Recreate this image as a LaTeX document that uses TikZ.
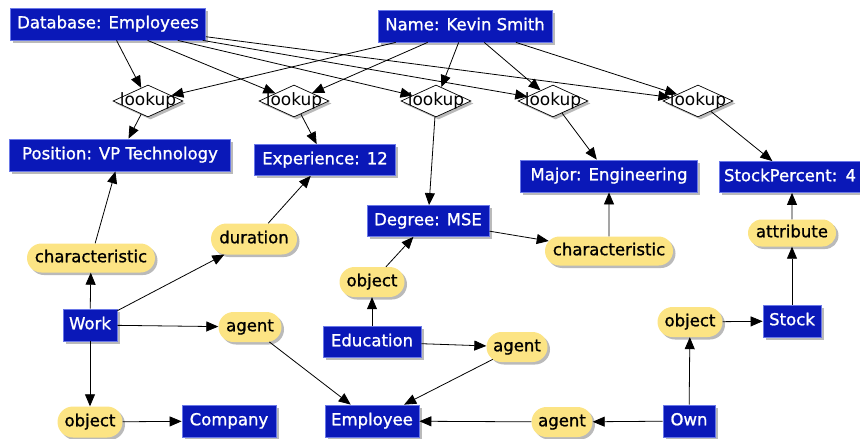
\documentclass[tikz,border=0pt]{standalone}
\usepackage{fontspec}
\setmainfont{DejaVu Sans}
\newfontfamily\bxfont[FakeBold=1.1]{DejaVu Sans}
\usetikzlibrary{shapes.geometric,shapes.misc,shadows,arrows.meta}
\definecolor{boxblue}{HTML}{0A18B8}
\definecolor{boxedge}{HTML}{6A78E8}
\definecolor{pill}{HTML}{FCE484}
\tikzset{
  bx/.style 2 args={rectangle, fill=boxblue, draw=boxedge, line width=0.8pt,
    text=white, font=\bxfont\fontsize{16.5}{19}\selectfont, inner sep=0pt,
    minimum width=#1pt, minimum height=#2pt, text height=12pt, text depth=3.5pt,
    drop shadow={shadow xshift=2.5pt, shadow yshift=-2.5pt, fill=black!45, opacity=0.6}},
  pl/.style 2 args={rounded rectangle, fill=pill, draw=none,
    text=black, font=\bxfont\fontsize{16.5}{19}\selectfont, inner sep=0pt,
    minimum width=#1pt, minimum height=#2pt, text height=12pt, text depth=3.5pt,
    drop shadow={shadow xshift=2.5pt, shadow yshift=-2.5pt, fill=black!45, opacity=0.6}},
  dia/.style={diamond, fill=white, draw=black, line width=0.7pt, inner sep=0pt,
    minimum width=70pt, minimum height=32pt,
    drop shadow={shadow xshift=2.5pt, shadow yshift=-2.5pt, fill=black!45, opacity=0.6}},
  lk/.style={font=\fontsize{17}{20}\selectfont, text=black, inner sep=0pt},
  ar/.style={-{Triangle[length=12pt,width=10pt]}, line width=0.8pt, black},
}
\begin{document}
\begin{tikzpicture}[x=1pt,y=-1pt]
\useasboundingbox (0,0) rectangle (860,439);
% top sources
\node[bx={195}{32}] (db) at (108,24) {Database: Employees};
\node[bx={174}{32}] (nm) at (465,26) {Name: Kevin Smith};
% lookups
\node[dia] (l1) at (148,101) {};
\node[dia] (l2) at (294,101) {};
\node[dia] (l3) at (436,101) {};
\node[dia] (l4) at (553,101) {};
\node[dia] (l5) at (698,101) {};
\node[lk] (t1) at (l1) {lookup};
\node[lk] (t2) at (l2) {lookup};
\node[lk] (t3) at (l3) {lookup};
\node[lk] (t4) at (l4) {lookup};
\node[lk] (t5) at (l5) {lookup};
% attribute values
\node[bx={221}{32}] (pos) at (120,155) {Position: VP Technology};
\node[bx={141}{31}] (exp) at (325,160) {Experience: 12};
\node[bx={122}{31}] (deg) at (428,221) {Degree: MSE};
\node[bx={177}{32}] (maj) at (609,176) {Major: Engineering};
\node[bx={146}{31}, text width=136pt, align=left] (sp) at (792,177) {StockPercent: 4};
% concepts
\node[bx={54}{32}] (work) at (90,325) {Work};
\node[bx={98}{31}] (edu) at (372,342) {Education};
\node[bx={94}{32}] (comp) at (229,421) {Company};
\node[bx={94}{32}] (emp) at (372,421) {Employee};
\node[bx={52}{32}] (own) at (689,421) {Own};
\node[bx={58}{32}] (stock) at (792,321) {Stock};
% relations
\node[pl={128}{29}] (chl) at (91,258) {characteristic};
\node[pl={86}{31}] (dur) at (254,239) {duration};
\node[pl={65}{30}] (obe) at (372,282) {object};
\node[pl={128}{29}] (chr) at (609,251) {characteristic};
\node[pl={88}{27}] (att) at (792,233) {attribute};
\node[pl={63}{30}] (agw) at (250,327) {agent};
\node[pl={61}{30}] (age) at (517,347) {agent};
\node[pl={61}{30}] (ago) at (562,422) {agent};
\node[pl={65}{31}] (obw) at (90,422) {object};
\node[pl={65}{30}] (obo) at (690,322) {object};
% edges: sources to lookups
\foreach \l in {l1,l2,l3,l4,l5} {
  \draw[ar] (db) -- (\l);
  \draw[ar] (nm) -- (\l);
}
\draw[ar] (l1) -- (pos);
\draw[ar] (l2) -- (exp);
\draw[ar] (l3) -- (deg);
\draw[ar] (l4) -- (maj);
\draw[ar] (l5) -- (sp);
% work
\draw[ar] (work) -- (chl);
\draw[ar] (chl) -- (pos);
\draw[ar] (work) -- (dur);
\draw[ar] (dur) -- (exp);
\draw[ar] (work) -- (agw);
\draw[ar] (agw) -- (emp);
\draw[ar] (work) -- (obw);
\draw[ar] (obw) -- (comp);
% education
\draw[ar] (edu) -- (obe);
\draw[ar] (obe) -- (deg);
\draw[ar] (deg) -- (chr);
\draw[ar] (chr) -- (maj);
\draw[ar] (edu) -- (age);
\draw[ar] (age) -- (emp);
% own
\draw[ar] (own) -- (ago);
\draw[ar] (ago) -- (emp);
\draw[ar] (own) -- (obo);
\draw[ar] (obo) -- (stock);
\draw[ar] (stock) -- (att);
\draw[ar] (att) -- (sp);
\end{tikzpicture}
\end{document}
